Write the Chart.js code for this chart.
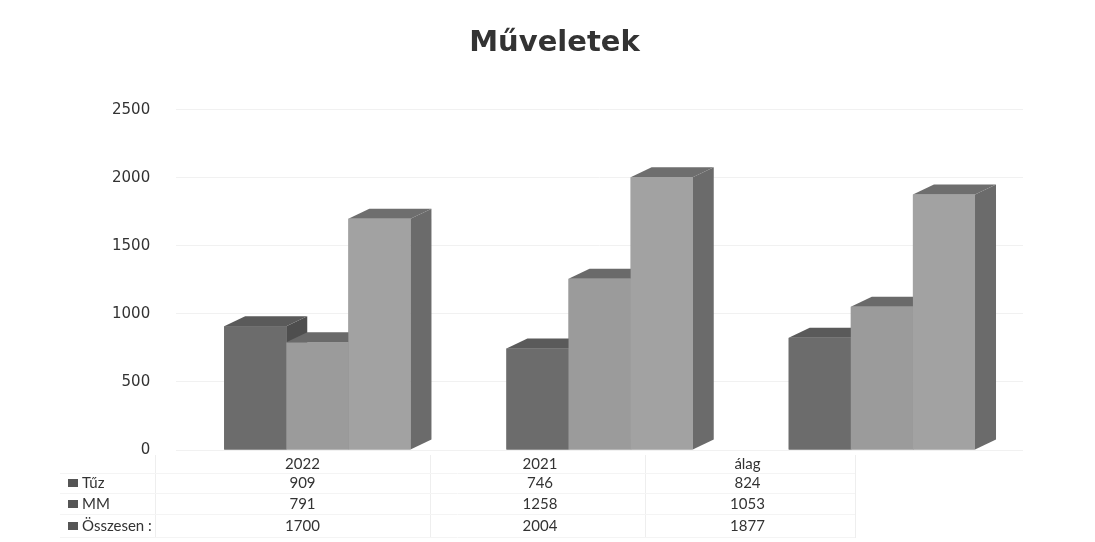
<!DOCTYPE html>
<html>
<head>
<meta charset="utf-8">
<script src="https://cdn.jsdelivr.net/npm/chart.js@4"></script>
<style>
  html, body { margin: 0; padding: 0; background: #fff; }
  #wrap { width: 1095px; height: 542px; }
</style>
</head>
<body>
<div id="wrap"><canvas id="muveletek"></canvas></div>
<script>
// data
const categories = ['2022', '2021', 'álag'];
const seriesNames = ['Tűz', 'MM', 'Összesen'];
const tuz = [909, 746, 824];
const mm = [791, 1258, 1053];
const osszesen = [1700, 2004, 1877];
const yTicks = [0, 500, 1000, 1500, 2000, 2500];

const faceColors = [
  { front: '#6c6c6c', top: '#5a5a5a', side: '#4e4e4e' },
  { front: '#9b9b9b', top: '#6a6a6a', side: '#6a6a6a' },
  { front: '#a2a2a2', top: '#6e6e6e', side: '#6b6b6b' }
];
const DX = 21, DY = 10;

// draws the bars as boxes, group by group, so later bars cover earlier sides
const boxes = {
  id: 'boxes',
  afterDatasetsDraw(chart) {
    const ctx = chart.ctx;
    ctx.save();
    for (let c = 0; c < categories.length; c++) {
      for (let d = 0; d < chart.data.datasets.length; d++) {
        const bar = chart.getDatasetMeta(d).data[c];
        const col = faceColors[d];
        const l = bar.x - bar.width / 2, r = bar.x + bar.width / 2;
        const t = bar.y, b = bar.base;
        // side
        ctx.fillStyle = col.side;
        ctx.beginPath();
        ctx.moveTo(r, b); ctx.lineTo(r + DX, b - DY);
        ctx.lineTo(r + DX, t - DY); ctx.lineTo(r, t); ctx.closePath();
        ctx.fill();
        // top
        ctx.fillStyle = col.top;
        ctx.beginPath();
        ctx.moveTo(l, t); ctx.lineTo(l + DX, t - DY);
        ctx.lineTo(r + DX, t - DY); ctx.lineTo(r, t); ctx.closePath();
        ctx.fill();
        // front
        ctx.fillStyle = col.front;
        ctx.fillRect(l, t, r - l, b - t);
      }
    }
    ctx.restore();
  }
};

// data table under the plot
const dataTable = {
  id: 'dataTable',
  afterDraw(chart) {
    const ctx = chart.ctx;
    const rows = [tuz, mm, osszesen];
    const edges = [165, 440, 640, 855];
    const headY = 464, rowY = [483, 504, 526];
    ctx.save();
    ctx.strokeStyle = '#eeeeee';
    ctx.lineWidth = 1;
    [155, 430, 645, 855].forEach(x => {
      ctx.beginPath(); ctx.moveTo(x + 0.5, 455); ctx.lineTo(x + 0.5, 538); ctx.stroke();
    });
    ctx.strokeStyle = '#f4f4f4';
    [473, 493, 514, 537].forEach(y => {
      ctx.beginPath(); ctx.moveTo(60, y + 0.5); ctx.lineTo(855, y + 0.5); ctx.stroke();
    });
    ctx.font = '15px Lato, "Liberation Sans", sans-serif';
    ctx.fillStyle = '#333';
    ctx.textAlign = 'center';
    ctx.textBaseline = 'middle';
    categories.forEach((cat, i) => {
      const cx = (edges[i] + edges[i + 1]) / 2;
      ctx.fillText(cat, cx, headY);
      rows.forEach((vals, r) => ctx.fillText(String(vals[i]), cx, rowY[r]));
    });
    ctx.textAlign = 'left';
    seriesNames.forEach((name, r) => {
      ctx.fillStyle = '#555';
      ctx.fillRect(68, rowY[r] - 4, 10, 8);
      ctx.fillStyle = '#333';
      ctx.fillText(name + (r === 2 ? ' :' : ''), 82, rowY[r]);
    });
    ctx.restore();
  }
};

new Chart(document.getElementById('muveletek'), {
  type: 'bar',
  data: {
    labels: categories,
    datasets: [
      { label: seriesNames[0], data: tuz, backgroundColor: faceColors[0].front },
      { label: seriesNames[1], data: mm, backgroundColor: faceColors[1].front },
      { label: seriesNames[2], data: osszesen, backgroundColor: faceColors[2].front }
    ]
  },
  options: {
    responsive: true,
    maintainAspectRatio: false,
    animation: false,
    layout: { padding: { left: 86, right: 72, top: 0, bottom: 92 } },
    datasets: { bar: { categoryPercentage: 0.66, barPercentage: 1.0 } },
    plugins: {
      legend: { display: false },
      tooltip: { enabled: false },
      title: {
        display: true,
        text: 'Műveletek',
        color: '#333',
        font: { family: '"DejaVu Sans", sans-serif', size: 29, weight: 'bold' },
        padding: { top: 26, bottom: 49 }
      }
    },
    scales: {
      x: {
        display: false,
        grid: { display: false }
      },
      y: {
        min: 0,
        max: 2500,
        afterBuildTicks(axis) { axis.ticks = yTicks.map(v => ({ value: v })); },
        border: { display: false },
        grid: { color: '#f1f1f1', drawTicks: false },
        ticks: {
          padding: 26,
          color: '#333',
          font: { family: '"DejaVu Sans", sans-serif', size: 15 },
          callback: v => String(v)
        }
      }
    }
  },
  plugins: [boxes, dataTable]
});
</script>
</body>
</html>
